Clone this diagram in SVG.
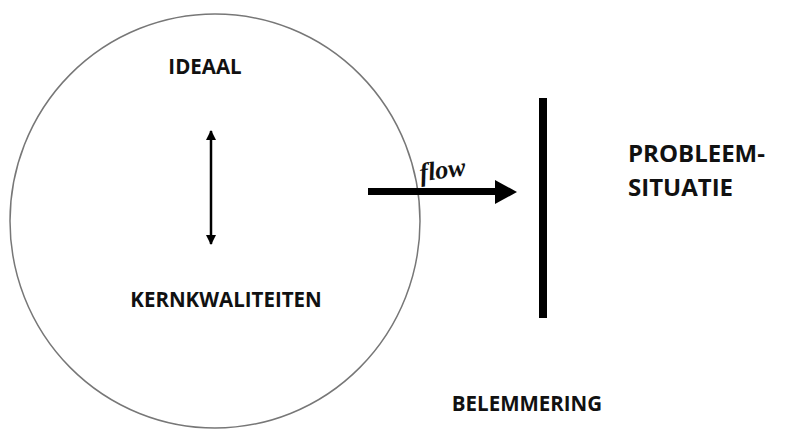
<svg xmlns="http://www.w3.org/2000/svg" width="795" height="429" viewBox="0 0 795 429">
  <defs>
    <style>
      .lbl { font-family: "Open Sans", "Liberation Sans", sans-serif; font-weight: bold; fill: #111; }
      .small { font-size: 20.5px; }
      .big { font-size: 24px; }
    </style>
    <marker id="ah" viewBox="0 0 10 10" refX="9" refY="5" markerWidth="4" markerHeight="4" orient="auto-start-reverse" markerUnits="strokeWidth">
      <path d="M0,0 L10,5 L0,10 z" fill="#000"/>
    </marker>
  </defs>
  <rect width="795" height="429" fill="#fff"/>
  <g id="circle">
    <ellipse cx="215" cy="221" rx="205" ry="207" fill="none" stroke="#777" stroke-width="1.5"/>
  </g>
  <g id="barrier">
    <rect x="539" y="98" width="8" height="220" fill="#000"/>
  </g>
  <g id="connectors">
    <line x1="211" y1="131" x2="211" y2="244" stroke="#000" stroke-width="2.5" marker-start="url(#ah)" marker-end="url(#ah)"/>
    <rect x="368" y="188" width="130" height="7" fill="#000"/>
    <path d="M495,180 L517,192 L495,204 z" fill="#000"/>
    <text x="419" y="178" transform="rotate(-8 445 168)" font-family="'Liberation Serif', serif" font-style="italic" font-weight="bold" font-size="26" fill="#111">flow</text>
  </g>
  <g id="ideaal"><text class="lbl small" x="205" y="74" text-anchor="middle">IDEAAL</text></g>
  <g id="kernkwaliteiten"><text class="lbl small" x="226" y="307" text-anchor="middle">KERNKWALITEITEN</text></g>
  <g id="belemmering"><text class="lbl small" x="527" y="411" text-anchor="middle">BELEMMERING</text></g>
  <g id="probleemsituatie">
    <text class="lbl big" x="628" y="162">PROBLEEM-</text>
    <text class="lbl big" x="628" y="196">SITUATIE</text>
  </g>
</svg>
